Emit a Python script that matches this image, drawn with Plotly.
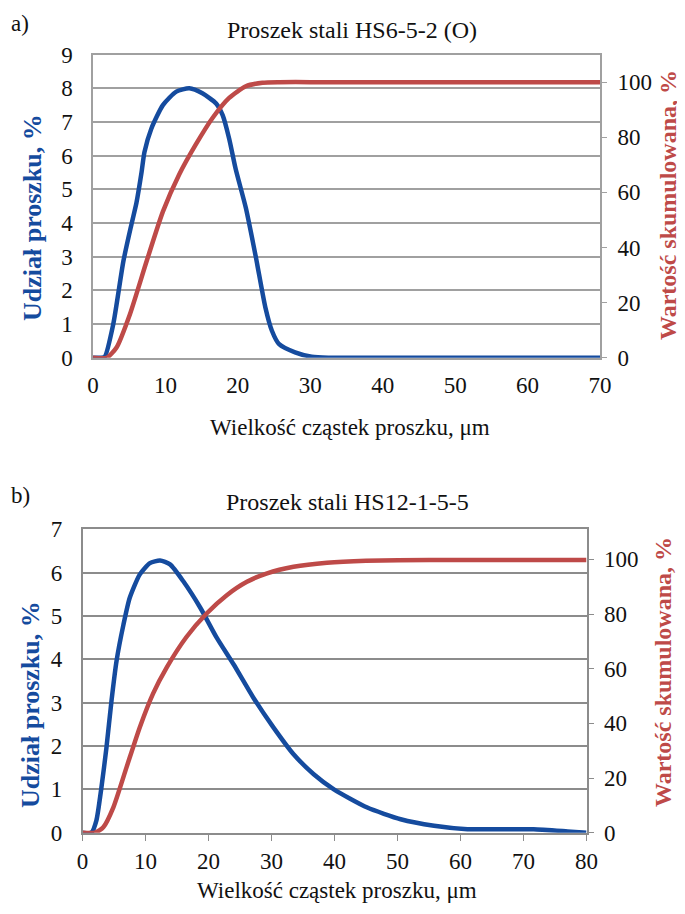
import plotly.graph_objects as go

# ---- data: top chart (HS6-5-2 (O)) ----
a_x_frac = [0, 1.0, 1.6, 2.8, 4.2, 5.3, 6.0, 6.7, 7.1, 8.05, 9.65, 11.5, 13.3, 15.1, 17.0, 17.9, 18.8,
            19.7, 21.1, 22.5, 23.8, 24.7, 25.7, 27.9, 30.2, 32.5, 40, 50, 60, 70]
a_y_frac = [0, 0, 0.02, 1.0, 2.87, 3.95, 4.6, 5.5, 6.1, 6.8, 7.5, 7.9, 8.0, 7.85, 7.55, 7.2, 6.5,
            5.6, 4.45, 2.97, 1.49, 0.8, 0.4, 0.16, 0.03, 0, 0, 0, 0, 0]
a_x_cum = [0, 1.9, 3.25, 5.1, 7.4, 9.65, 11.9, 14.2, 16.5, 18.8, 21.1, 23.4, 25.7, 30, 40, 50, 60, 70]
a_y_cum = [0, 0, 3.7, 15.8, 35, 53, 66.5, 77.4, 87, 94.3, 98.5, 99.8, 100, 100, 100, 100, 100, 100]

# ---- data: bottom chart (HS12-1-5-5) ----
b_x_frac = [0, 1.4, 2.2, 3.0, 3.8, 4.6, 5.4, 6.5, 7.5, 9.1, 10.7, 12.3, 13.9, 16.0, 18.7, 21.3, 24.0,
            27.1, 30.3, 33.5, 36.7, 39.9, 45.2, 50.5, 55.8, 61.1, 66.4, 71.6, 77.0, 80]
b_y_frac = [0, 0, 0.28, 1.04, 1.96, 3.04, 3.96, 4.8, 5.42, 5.96, 6.22, 6.28, 6.19, 5.8, 5.19, 4.5, 3.88,
            3.12, 2.43, 1.81, 1.35, 1.0, 0.58, 0.31, 0.16, 0.08, 0.08, 0.08, 0.03, 0]
b_x_cum = [0, 2.0, 3.3, 4.9, 7.0, 9.1, 11.2, 13.4, 16.5, 19.7, 22.9, 26.1, 29.3, 33.5, 38.8, 45, 55, 65, 80]
b_y_cum = [0, 0, 2.0, 9.3, 24, 38.6, 50.9, 60.6, 71.6, 80.2, 86.9, 91.8, 94.9, 97.3, 98.8, 99.5, 99.8, 99.8, 99.8]

titles = ["Proszek stali HS6-5-2 (O)", "Proszek stali HS12-1-5-5"]
panel_labels = ["a)", "b)"]
x_title = "Wielkość cząstek proszku, μm"
y_left_title = "Udział proszku, %"
y_right_title = "Wartość skumulowana, %"

BLUE = "#154b9e"
RED = "#be4a48"
FONT = "Liberation Serif, Times New Roman, DejaVu Serif, serif"
OFF = 8                     # page body margin
W, H = 685 - OFF, 914 - OFF

fig = go.Figure()
line_kw = dict(width=4.5, shape="spline", smoothing=0.6)
fig.add_trace(go.Scatter(x=a_x_frac, y=a_y_frac, mode="lines", line=dict(color=BLUE, **line_kw),
                         xaxis="x", yaxis="y"))
fig.add_trace(go.Scatter(x=a_x_cum, y=a_y_cum, mode="lines", line=dict(color=RED, **line_kw),
                         xaxis="x", yaxis="y2"))
fig.add_trace(go.Scatter(x=b_x_frac, y=b_y_frac, mode="lines", line=dict(color=BLUE, **line_kw),
                         xaxis="x2", yaxis="y3"))
fig.add_trace(go.Scatter(x=b_x_cum, y=b_y_cum, mode="lines", line=dict(color=RED, **line_kw),
                         xaxis="x2", yaxis="y4"))

def px_x(a, b):
    return [(a - OFF) / W, (b - OFF) / W]

def px_y(top, bottom):
    return [1 - (bottom - OFF) / H, 1 - (top - OFF) / H]

tickfont = dict(family=FONT, size=23, color="#111")
grid_a = "#a0a0a0"
grid_b = "#8c8c8c"

fig.update_layout(
    template="none",
    width=W, height=H, showlegend=False, autosize=False,
    margin=dict(l=0, r=0, t=0, b=0, pad=0),
    paper_bgcolor="white", plot_bgcolor="white",
    font=dict(family=FONT, color="#111"),
    xaxis=dict(domain=px_x(93, 600), anchor="y", range=[0, 70], dtick=10, showgrid=False,
               showline=True, linecolor=grid_a, linewidth=1.5, mirror=True, ticks="", zeroline=False,
               tickfont=tickfont, automargin=False, ticklabelstandoff=6),
    yaxis=dict(domain=px_y(54.6, 357.7), anchor="x", range=[0, 9], dtick=1, showgrid=True, gridcolor=grid_a,
               gridwidth=1.5, showline=True, linecolor=grid_a, linewidth=1.5, mirror=True, ticks="",
               zeroline=False, tickfont=tickfont, ticklabelstandoff=14, automargin=False),
    yaxis2=dict(overlaying="y", side="right", anchor="x", range=[0, 110], tickvals=[0, 20, 40, 60, 80, 100],
                showgrid=False, zeroline=False, showline=False, ticks="outside", ticklen=6, tickcolor=grid_a,
                tickfont=tickfont, automargin=False, ticklabelstandoff=6),
    xaxis2=dict(domain=px_x(82.5, 586.5), anchor="y3", range=[0, 80], dtick=10, showgrid=False,
                showline=True, linecolor=grid_b, linewidth=1.5, mirror=True, ticks="outside", ticklen=7,
                tickcolor=grid_b, zeroline=False, tickfont=tickfont, automargin=False),
    yaxis3=dict(domain=px_y(529.3, 832.7), anchor="x2", range=[0, 7], dtick=1, showgrid=True, gridcolor=grid_b,
                gridwidth=1.5, showline=True, linecolor=grid_b, linewidth=1.5, mirror=True, ticks="",
                zeroline=False, tickfont=tickfont, ticklabelstandoff=14, automargin=False),
    yaxis4=dict(overlaying="y3", side="right", anchor="x2", range=[0, 111], tickvals=[0, 20, 40, 60, 80, 100],
                showgrid=False, zeroline=False, showline=False, ticks="outside", ticklen=6, tickcolor=grid_b,
                tickfont=tickfont, automargin=False, ticklabelstandoff=6),
)

ann = []
def a(text, x, y, size=23, color="#111", bold=False, angle=0, xanchor="center"):
    t = f"<b>{text}</b>" if bold else text
    ann.append(dict(text=t, x=(x - OFF) / W, y=1 - (y - OFF) / H, xref="paper", yref="paper", showarrow=False,
                    textangle=angle, xanchor=xanchor, yanchor="middle",
                    font=dict(family=FONT, size=size, color=color)))

a(panel_labels[0], 9, 24, size=23, xanchor="left")
a(titles[0], 352, 30, size=24)
a(x_title, 350, 427, size=23)
a(y_left_title, 33, 218, size=26, color=BLUE, bold=True, angle=-90)
a(y_right_title, 668, 205, size=24, color=RED, bold=True, angle=-90)

a(panel_labels[1], 9, 495, size=23, xanchor="left")
a(titles[1], 347, 502, size=24)
a(x_title, 337, 890, size=23)
a(y_left_title, 30, 705, size=26, color=BLUE, bold=True, angle=-90)
a(y_right_title, 663, 672, size=24, color=RED, bold=True, angle=-90)

fig.update_layout(annotations=ann)
fig.write_html("out.html")
